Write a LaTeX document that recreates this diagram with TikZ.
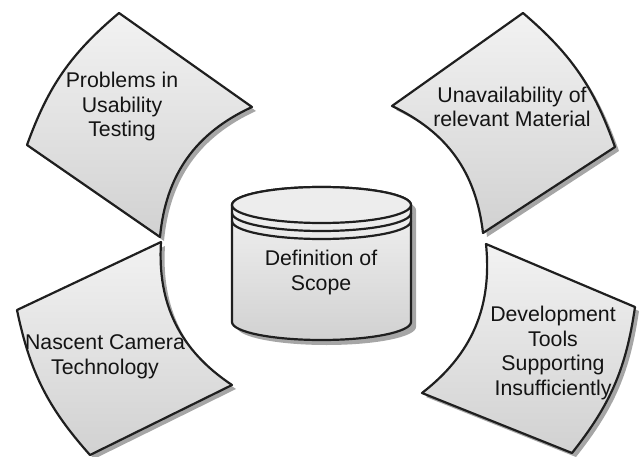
\documentclass[tikz,border=0pt]{standalone}
\usepackage{fontspec}
\setmainfont{Liberation Sans}

% Outlines of the four curved sheets (coordinates in px, y downwards)
\newcommand\sheetTL{(119,13) -- (252,107) to[bend right=30] (160,237) -- (27,145) to[bend left=15] (119,13) -- cycle}
\newcommand\sheetTR{(392,106) -- (523,13) to[bend left=15] (615,147) -- (483,233) to[bend right=29] (392,106) -- cycle}
\newcommand\sheetBL{(161,242) -- (17,310) to[bend right=15] (90,455) -- (232,385) to[bend left=30] (161,242) -- cycle}
\newcommand\sheetBR{(486,244) -- (635,307) to[bend left=15] (572,453) -- (422,393) to[bend right=29] (486,244) -- cycle}
% Cylinder body
\newcommand\drumbody{(232,205) -- (232,322) arc[start angle=180, end angle=360, x radius=89.5pt, y radius=18pt] -- (411,205) arc[start angle=0, end angle=180, x radius=89.5pt, y radius=18pt] -- cycle}

\begin{document}
\begin{tikzpicture}[x=1pt, y=-1pt,
  outline/.style={draw=black!88, line width=2.2pt, line join=round},
  sheet/.style={outline, top color=black!5, bottom color=black!18},
  dropshade/.style={fill=black!35},
  label/.style={align=center, inner sep=0pt, text=black!92,
                font=\fontsize{21.3}{24.7}\selectfont},
]
\useasboundingbox (0,0) rectangle (639,457);

% shadows
\begin{scope}[shift={(4,4)}]
  \fill[dropshade] \sheetTL;
  \fill[dropshade] \sheetTR;
  \fill[dropshade] \sheetBL;
  \fill[dropshade] \sheetBR;
\end{scope}
\fill[dropshade, shift={(5,5)}] \drumbody;

% sheets
\path[sheet] \sheetTL;
\path[sheet] \sheetTR;
\path[sheet] \sheetBL;
\path[sheet] \sheetBR;

% cylinder
\path[outline, top color=black!4, bottom color=black!18] \drumbody;
\path[outline, fill=black!7] (321.5,205) ellipse[x radius=89.5pt, y radius=18pt];
\draw[outline] (232,213) arc[start angle=180, end angle=360, x radius=89.5pt, y radius=18pt];
\draw[outline] (232,221) arc[start angle=180, end angle=360, x radius=89.5pt, y radius=18pt];

% labels
\node[label] (usability) at (122,106.6) {Problems in\\Usability\\Testing};
\node[label] (material) at (512,106.9) {Unavailability of\\relevant Material};
\node[label] (camera) at (105,356.7) {Nascent Camera\\Technology};
\node[label] (tools) at (553,353) {Development\\Tools\\Supporting\\Insufficiently};
\node[label] (scope) at (321,272.4) {Definition of\\Scope};
\end{tikzpicture}
\end{document}
